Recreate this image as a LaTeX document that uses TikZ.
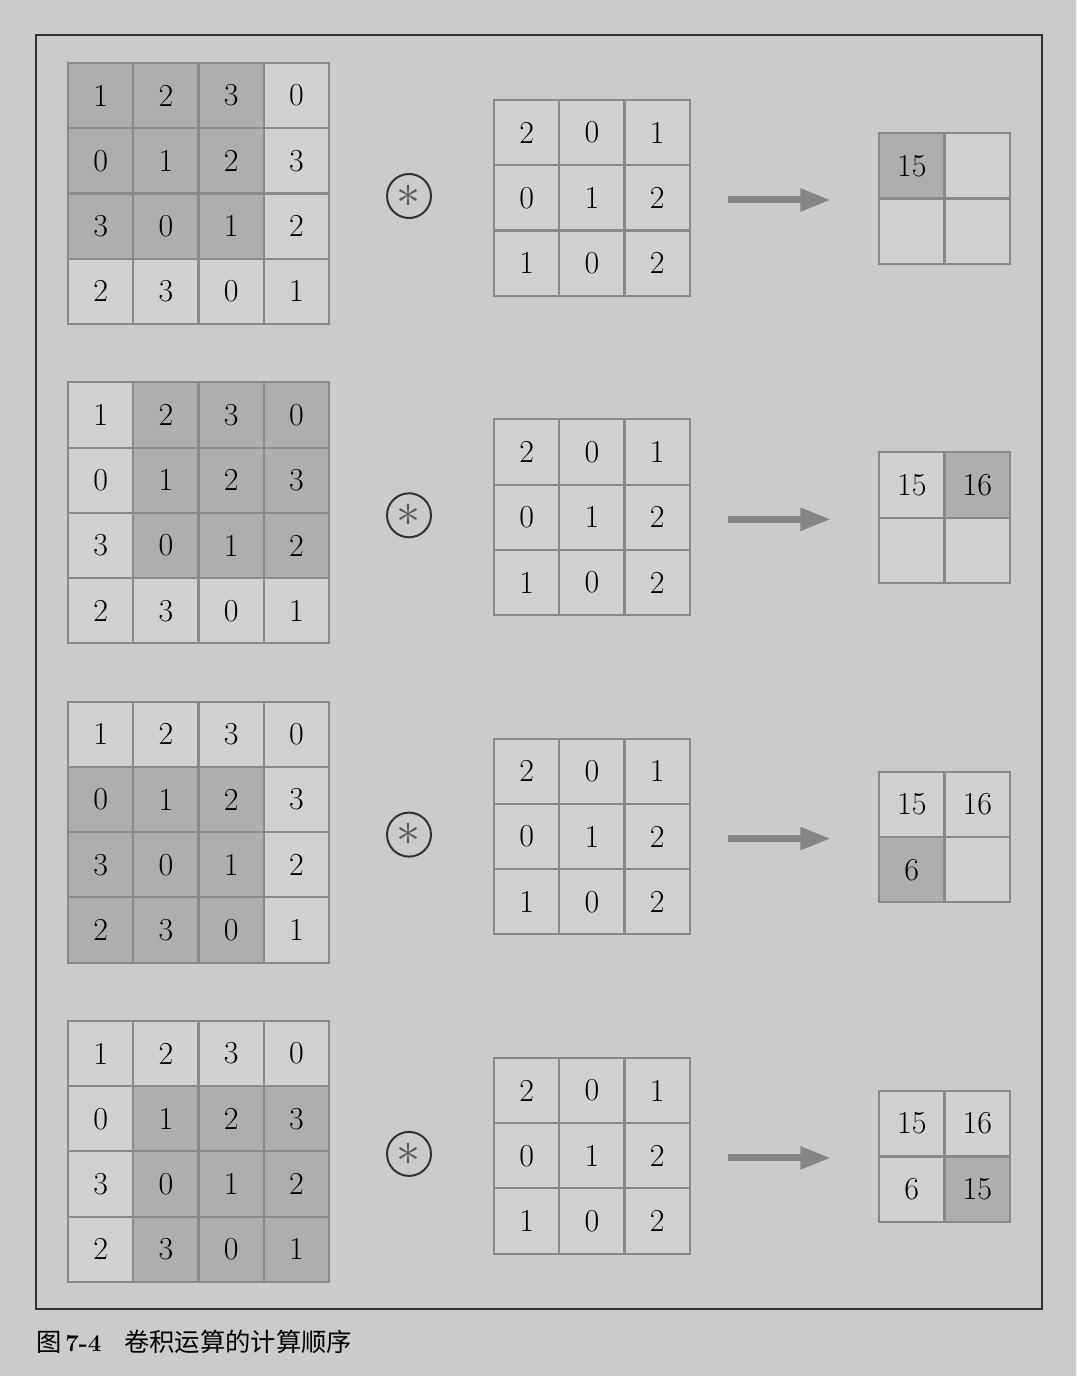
\documentclass[tikz,border=0pt]{standalone}
\usepackage{fontspec}
\usepackage{graphicx}
\newfontfamily\cjk{Noto Sans CJK SC}
\usetikzlibrary{arrows.meta}
\definecolor{bgcol}{RGB}{203,203,203}
\definecolor{lightcell}{RGB}{209,209,209}
\definecolor{darkcell}{RGB}{174,174,175}
\definecolor{cellline}{RGB}{137,137,137}
\definecolor{arrowcol}{RGB}{133,133,135}
\definecolor{framecol}{RGB}{50,50,50}

\begin{document}
\begin{tikzpicture}[x=0.75pt, y=-0.75pt, >=latex,
  cell/.style = {draw=cellline, line width=1.5pt, minimum size=48.9pt, inner sep=0pt, font=\fontsize{24}{24}\selectfont},
  conv/.style = {circle, draw=framecol, line width=1.5pt, minimum size=33pt, inner sep=0pt, text=black!65, font=\fontsize{24}{24}\selectfont},
  bigarrow/.style = {arrowcol, line width=5.25pt, -{Triangle[length=23pt, width=16pt]}}]
\def\cellD{65.25}
\def\stepD{319.3}

% background and page size
\fill [bgcol] (0, 0) rectangle (1076, 1376);
\useasboundingbox (0, 0) rectangle (1076, 1376);

% outer frame
\draw [framecol, line width = 1.1pt] (36, 35) rectangle (1042, 1309);

\foreach \k in {0,...,3} {
  \pgfmathtruncatemacro\wr{int(\k/2)}
  \pgfmathtruncatemacro\wc{mod(\k,2)}
  \pgfmathsetmacro\rowY{\k*\stepD}

  % input 4x4, window shaded
  \foreach \row [count=\r from 0] in {{1,2,3,0},{0,1,2,3},{3,0,1,2},{2,3,0,1}} {
    \foreach \v [count=\c from 0] in \row {
      \pgfmathtruncatemacro\hit{(\r>=\wr)*(\r<=\wr+2)*(\c>=\wc)*(\c<=\wc+2)}
      \ifnum\hit=1 \def\cellfill{darkcell}\else\def\cellfill{lightcell}\fi
      \node [cell, fill = \cellfill] (in\k-\r-\c) at ({68+\cellD*(\c+0.5)}, {63+\rowY+\cellD*(\r+0.5)}) {\v};
    }
  }

  % convolution symbol
  \node [conv] (conv\k) at (409, {196+\rowY}) {\scalebox{1.45}{$\ast$}};

  % filter 3x3
  \foreach \row [count=\r from 0] in {{2,0,1},{0,1,2},{1,0,2}} {
    \foreach \v [count=\c from 0] in \row {
      \node [cell, fill = lightcell] (ker\k-\r-\c) at ({494+\cellD*(\c+0.5)}, {100+\rowY+\cellD*(\r+0.5)}) {\v};
    }
  }

  % arrow
  \coordinate (arr\k-s) at (728, {200+\rowY});
  \coordinate (arr\k-e) at (831, {200+\rowY});
  \draw [bigarrow] (arr\k-s) -- (arr\k-e);

  % output 2x2, filled up to step k
  \foreach \v [count=\i from 0] in {15,16,6,15} {
    \pgfmathtruncatemacro\r{int(\i/2)}
    \pgfmathtruncatemacro\c{mod(\i,2)}
    \ifnum\i=\k \def\cellfill{darkcell}\else\def\cellfill{lightcell}\fi
    \ifnum\i>\k \def\txt{}\else\def\txt{\v}\fi
    \node [cell, fill = \cellfill] (out\k-\r-\c) at ({879+65.5*(\c+0.5)}, {133+\rowY+65.5*(\r+0.5)}) {\txt};
  }
}

% caption
\node [anchor = west, inner sep = 0pt, font = \fontsize{19}{19}\selectfont] (caption) at (36, 1342)
  {\cjk 图\hspace{0.15em}{\normalfont\bfseries\fontsize{18}{19}\selectfont 7-4}\hspace{0.9em}卷积运算的计算顺序};
\end{tikzpicture}
\end{document}
